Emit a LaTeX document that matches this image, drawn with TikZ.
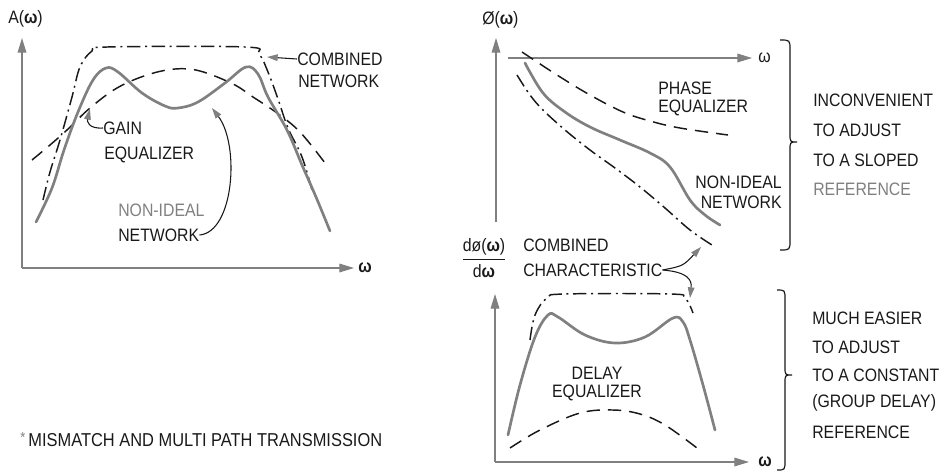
\documentclass[tikz,border=0pt]{standalone}
\usepackage{fontspec}
\setmainfont{Liberation Sans}[FakeStretch=0.88]
\usetikzlibrary{arrows.meta}
\definecolor{ink}{gray}{0.1}
\definecolor{soft}{gray}{0.5}
\begin{document}
\begin{tikzpicture}[x=0.75pt,y=-0.75pt,
  axisline/.style={draw=soft, line width=0.9pt, -{Triangle[length=11pt,width=6.5pt]}},
  solidc/.style={draw=soft, line width=2pt, line cap=round},
  dashc/.style={draw=ink, line width=1.1pt, dash pattern=on 10pt off 6pt},
  dotdash/.style={draw=ink, line width=1.1pt, dash pattern=on 10pt off 3.5pt on 1.5pt off 3.5pt},
  lab/.style={font=\fontsize{13.5}{15}\selectfont, inner sep=0pt, text=ink, anchor=west},
  ptr/.style={draw=ink, line width=0.8pt, -{Triangle[length=8pt,width=5pt,color=soft]}},
  brace/.style={draw=ink, line width=0.9pt}]
\useasboundingbox (0,0) rectangle (952,472);

% ---------- left graph ----------
\coordinate (LO) at (22,268);
\coordinate (LY) at (22,38);
\coordinate (LX) at (354,268);
\draw[axisline] (LO) -- (LY);
\draw[axisline] (LO) -- (LX);
\node[lab] (Aw) at (8,19) {A(\textbf{ω})};
\node[lab] (wL) at (358,268) {\textbf{ω}};

\draw[dotdash] plot[smooth, tension=0.6] coordinates {(43,200) (50,172) (60,140) (72,97) (80,67) (92,51) (107,47) (245,47) (259,54) (268,72) (278,99) (288,128) (302,157) (312,190)};
\draw[dashc] plot[smooth, tension=0.6] coordinates {(32,160) (50,145) (67,130) (90,108) (117,88) (147,75) (175,69) (200,71) (233,84) (253,97) (277,113) (300,132) (325,163)};
\draw[solidc] plot[smooth, tension=0.6] coordinates {(36,222) (52,188) (64,150) (78,112) (93,80) (106,68) (118,72) (142,93) (165,106) (178,108) (198,102) (225,83) (246,67) (258,74) (268,97) (287,130) (302,165) (316,197) (330,231)};

\node[lab] (combL) at (297,59) {COMBINED};
\node[lab] (combL2) at (298,81) {NETWORK};
\coordinate (cnTip) at (267,57);
\draw[ptr] (combL.west) -- (cnTip);

\node[lab] (gain) at (103,128) {GAIN};
\node[lab] (gain2) at (104,155) {EQUALIZER};
\coordinate (gTip) at (90,109);
\draw[ptr] (gain.west) .. controls (88,129) and (87,121) .. (gTip);

\node[lab, text=soft] (nonL) at (118,210) {NON-IDEAL};
\node[lab] (netL) at (118,235) {NETWORK};
\coordinate (nTip) at (212,108);
\draw[ptr] (netL.east) .. controls (234,232) and (240,145) .. (nTip);

\node[lab, font=\fontsize{14}{16}\selectfont] (foot) at (20,440) {\raisebox{3pt}{\textcolor{soft}{\fontsize{11}{11}\selectfont *}}\,MISMATCH AND MULTI PATH TRANSMISSION};

% ---------- right top graph ----------
\coordinate (TYb) at (496,222);
\coordinate (TYt) at (496,38);
\coordinate (TXl) at (508,58);
\coordinate (TXr) at (752,58);
\draw[axisline] (TYb) -- (TYt);
\draw[axisline] (TXl) -- (TXr);
\node[lab] (phiw) at (482,20) {Ø(\textbf{ω})};
\node[lab] (wT) at (758,58) {ω};

\draw[dashc] plot[smooth, tension=0.6] coordinates {(522,52) (557,75) (590,95) (623,112) (650,121) (680,128) (728,135)};
\draw[solidc] plot[smooth, tension=0.6] coordinates {(525,63) (543,93) (565,112) (590,127) (620,140) (650,153) (670,167) (690,200) (705,215) (720,225)};
\draw[dotdash] plot[smooth, tension=0.6] coordinates {(517,75) (530,95) (543,110) (565,130) (590,150) (615,168) (640,187) (665,208) (690,230) (712,245)};

\node[lab] (ph1) at (658,88) {PHASE};
\node[lab] (ph2) at (658,108) {EQUALIZER};
\node[lab, anchor=east] (nonR) at (782,182) {NON-IDEAL};
\node[lab, anchor=east] (netR) at (782,202) {NETWORK};

\draw[brace] (780,40) .. controls (790,40) .. (790,50) -- (790,134) .. controls (790,142) .. (797,142) .. controls (790,142) .. (790,150) -- (790,240) .. controls (790,250) .. (780,250);
\node[lab] (i1) at (813,100) {INCONVENIENT};
\node[lab] (i2) at (813,130) {TO ADJUST};
\node[lab] (i3) at (813,160) {TO A SLOPED};
\node[lab, text=soft] (i4) at (813,189) {REFERENCE};

% ---------- right bottom graph ----------
\coordinate (BO) at (495,462);
\coordinate (BY) at (495,294);
\coordinate (BX) at (749,462);
\draw[axisline] (BO) -- (BY);
\draw[axisline] (BO) -- (BX);
\node[lab] (wB) at (758,462) {\textbf{ω}};
\node[inner sep=0pt, text=ink, font=\fontsize{13.5}{15}\selectfont] (frac) at (484,258) {\(\displaystyle\frac{\hbox{dø(\textbf{ω})}}{\hbox{d\textbf{ω}}}\)};

\draw[dotdash] plot[smooth, tension=0.6] coordinates {(530,340) (535,315) (547,298) (565,294) (670,294) (685,298) (693,313)};
\draw[solidc] plot[smooth, tension=0.6] coordinates {(508,435) (520,385) (535,337) (548,315) (558,317) (585,335) (615,343) (645,337) (673,318) (683,322) (690,340) (703,385) (715,430)};
\draw[dashc] plot[smooth, tension=0.6] coordinates {(510,448) (540,430) (580,413) (613,410) (640,414) (665,425) (697,448)};

\node[lab, anchor=center] (dl1) at (597,373) {DELAY};
\node[lab, anchor=center] (dl2) at (597,393) {EQUALIZER};

\node[lab] (cc1) at (523,245) {COMBINED};
\node[lab] (cc2) at (523,270) {CHARACTERISTIC};
\coordinate (ccTipA) at (701,247);
\coordinate (ccTipB) at (690,298);
\draw[ptr] (cc2.east) .. controls (683,266) .. (ccTipA);
\draw[ptr] (cc2.east) .. controls (688,272) and (692,280) .. (ccTipB);

\draw[brace] (777,290) .. controls (785,290) .. (785,300) -- (785,367) .. controls (785,375) .. (792,375) .. controls (785,375) .. (785,383) -- (785,460) .. controls (785,470) .. (777,470);
\node[lab] (m1) at (812,318) {MUCH EASIER};
\node[lab] (m2) at (812,347) {TO ADJUST};
\node[lab] (m3) at (812,375) {TO A CONSTANT};
\node[lab] (m4) at (812,403) {(GROUP DELAY)};
\node[lab] (m5) at (812,432) {REFERENCE};
\end{tikzpicture}
\end{document}
